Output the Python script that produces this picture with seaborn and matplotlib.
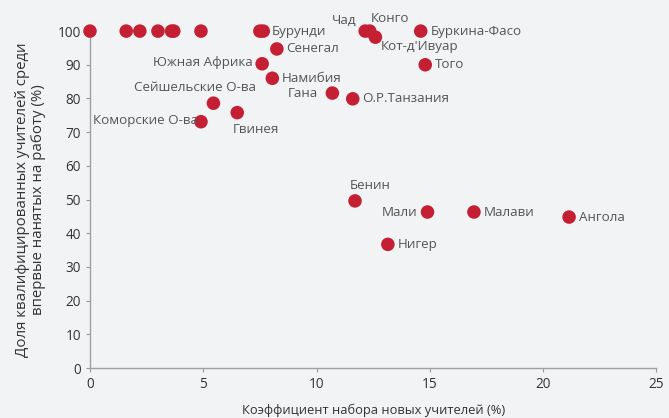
import matplotlib
matplotlib.use('Agg')
import matplotlib.pyplot as plt
import pandas as pd
import seaborn as sns

# data
countries = ['', '', '', '', '', '', '', '', 'Бурунди', 'Сенегал', 'Южная Африка',
             'Намибия', 'Гана', 'О.Р.Танзания', 'Сейшельские О-ва', 'Гвинея',
             'Коморские О-ва', 'Чад', 'Конго', "Кот-д'Ивуар", 'Буркина-Фасо', 'Того',
             'Бенин', 'Мали', 'Малави', 'Ангола', 'Нигер']
recruit_rate = [0.0, 1.6, 2.2, 3.0, 3.6, 3.7, 4.9, 7.5, 7.65, 8.25, 7.6,
                8.05, 10.7, 11.6, 5.45, 6.5,
                4.9, 12.15, 12.35, 12.6, 14.6, 14.8,
                11.7, 14.9, 16.95, 21.15, 13.15]
qualified_share = [100, 100, 100, 100, 100, 100, 100, 100, 100, 94.7, 90.3,
                   86.0, 81.6, 79.9, 78.6, 75.8,
                   73.1, 100, 100, 98.2, 100, 90.0,
                   49.6, 46.3, 46.3, 44.8, 36.7]
x_ticks = [0, 5, 10, 15, 20, 25]
y_ticks = list(range(0, 101, 10))

df = pd.DataFrame({'x': recruit_rate, 'y': qualified_share, 'name': countries})

# label placement (offset in points, horizontal alignment)
label_pos = {
    'Бурунди': (6, 0, 'left'), 'Сенегал': (7, 0, 'left'), 'Южная Африка': (-7, 1, 'right'),
    'Намибия': (7, 0, 'left'), 'Гана': (-10, 0, 'right'), 'О.Р.Танзания': (7, 0, 'left'),
    'Сейшельские О-ва': (-13, 11, 'center'), 'Гвинея': (-3, -12, 'left'),
    'Коморские О-ва': (-2, 1, 'right'), 'Чад': (-6, 8, 'right'), 'Конго': (1, 9, 'left'),
    "Кот-д'Ивуар": (4, -7, 'left'), 'Буркина-Фасо': (7, 0, 'left'), 'Того': (7, 0, 'left'),
    'Бенин': (-4, 11, 'left'), 'Мали': (-7, 0, 'right'), 'Малави': (7, 0, 'left'),
    'Ангола': (7, 0, 'left'), 'Нигер': (7, 0, 'left'),
}

bg = '#f2f3f5'
txt = '#555555'
sns.set_style('ticks')
plt.rcParams['font.family'] = ['Open Sans', 'DejaVu Sans']

fig = plt.figure(figsize=(6.69, 4.18), dpi=100)
fig.patch.set_facecolor(bg)
ax = fig.add_axes([0.1345, 0.1196, 0.8465, 0.806])
ax.set_facecolor(bg)

sns.scatterplot(data=df, x='x', y='y', ax=ax, color='#c51f33', s=95,
                edgecolor='none', clip_on=False, zorder=3)

for _, r in df.iterrows():
    if r['name']:
        dx, dy, ha = label_pos[r['name']]
        ax.annotate(r['name'], (r['x'], r['y']), xytext=(dx, dy),
                    textcoords='offset points', ha=ha, va='center',
                    fontsize=9.6, color=txt)

ax.set_xlim(0, 25)
ax.set_ylim(0, 100)
ax.set_xticks(x_ticks)
ax.set_yticks(y_ticks)
ax.tick_params(colors='#9a9a9a', labelcolor='#333333', labelsize=9.8, length=3, width=0.8)
for s in ['top', 'right']:
    ax.spines[s].set_visible(False)
for s in ['left', 'bottom']:
    ax.spines[s].set_color('#a0a0a0')
    ax.spines[s].set_linewidth(1)

ax.set_xlabel('Коэффициент набора новых учителей (%)', fontsize=9.3, color='#333333',
              labelpad=8)
ax.set_ylabel('Доля квалифицированных учителей среди\nвпервые нанятых на работу (%)',
              fontsize=10.8, color='#333333', labelpad=8, linespacing=1.15)

fig.savefig('out.png', dpi=100, facecolor=bg)
